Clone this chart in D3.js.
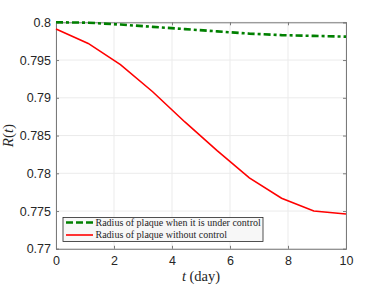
<!DOCTYPE html>
<html><head><meta charset="utf-8">
<script src="https://cdn.jsdelivr.net/npm/d3@7"></script>
<style>body{margin:0;background:#fff}svg{display:block}</style>
</head><body>
<script>
const tValues = [0, 1.111, 2.222, 3.333, 4.444, 5.556, 6.667, 7.778, 8.889, 10];
const controlled = [0.8000, 0.79995, 0.7997, 0.7994, 0.7991, 0.7988, 0.7985, 0.7983, 0.7982, 0.7981];
const uncontrolled = [0.7991, 0.7972, 0.7944, 0.7908, 0.7868, 0.7830, 0.7794, 0.7767, 0.7750, 0.7746];
const xTicks = [0, 2, 4, 6, 8, 10];
const yTicks = [0.77, 0.775, 0.78, 0.785, 0.79, 0.795, 0.8];
const yTickLabels = ["0.77", "0.775", "0.78", "0.785", "0.79", "0.795", "0.8"];
const legendLabels = ["Radius of plaque when it is under control", "Radius of plaque without control"];

const W = 382, H = 287;
const m = {l: 56, r: 36, t: 22, b: 38};
const svg = d3.select("body").append("svg").attr("width", W).attr("height", H);
const x = d3.scaleLinear().domain([0, 10]).range([m.l, W - m.r]);
const y = d3.scaleLinear().domain([0.77, 0.8]).range([H - m.b - 0.2, m.t + 0.3]);

// grid
const g = svg.append("g");
g.selectAll(".gx").data(xTicks).join("line")
  .attr("x1", d => x(d)).attr("x2", d => x(d)).attr("y1", y(0.77)).attr("y2", y(0.8))
  .attr("stroke", "#ebebeb").attr("stroke-width", 1);
g.selectAll(".gy").data(yTicks).join("line")
  .attr("y1", d => y(d)).attr("y2", d => y(d)).attr("x1", x(0)).attr("x2", x(10))
  .attr("stroke", "#ebebeb").attr("stroke-width", 1);

// axes
const axCol = "#262626";
const xa = svg.append("g").attr("transform", `translate(0,${y(0.77)})`)
  .call(d3.axisBottom(x).tickValues(xTicks).tickSize(-3).tickPadding(7).tickFormat(d3.format("d")));
const xt = svg.append("g").attr("transform", `translate(0,${y(0.8)})`)
  .call(d3.axisTop(x).tickValues(xTicks).tickSize(-3).tickFormat(""));
const ya = svg.append("g").attr("transform", `translate(${x(0)},0)`)
  .call(d3.axisLeft(y).tickValues(yTicks).tickSize(-3).tickPadding(5).tickFormat((d, i) => yTickLabels[i]));
const yr = svg.append("g").attr("transform", `translate(${x(10)},0)`)
  .call(d3.axisRight(y).tickValues(yTicks).tickSize(-3).tickFormat(""));
[xa, xt, ya, yr].forEach(a => {
  a.selectAll("path").attr("stroke", "#7a7a7a").attr("stroke-width", 1);
  a.selectAll("line").attr("stroke", "#7a7a7a");
  a.selectAll("text").attr("fill", axCol).style("font-family", "'Liberation Sans', Arial, sans-serif").style("font-size", "12.5px");
});

// lines
const line = arr => d3.line().x((d, i) => x(tValues[i])).y(d => y(d))(arr);
svg.append("path").attr("d", line(uncontrolled)).attr("fill", "none")
  .attr("stroke", "#ff0000").attr("stroke-width", 1.6);
svg.append("path").attr("d", line(controlled)).attr("fill", "none")
  .attr("stroke", "#008000").attr("stroke-width", 2.6).attr("stroke-dasharray", "7,3,3,3");

// labels
svg.append("text").attr("x", x(5)).attr("y", 281).attr("text-anchor", "middle")
  .style("font-family", "'Liberation Serif', 'DejaVu Serif', serif").style("font-size", "14.5px").attr("fill", axCol)
  .html('<tspan font-style="italic">t</tspan> (day)');
svg.append("text").attr("transform", `translate(13,${y(0.785)}) rotate(-90)`).attr("text-anchor", "middle")
  .style("font-family", "'Liberation Serif', 'DejaVu Serif', serif").style("font-size", "15px").attr("fill", axCol)
  .html('<tspan font-style="italic">R</tspan>(<tspan font-style="italic">t</tspan>)');

// legend
const lg = svg.append("g");
lg.append("rect").attr("x", 63).attr("y", 217.5).attr("width", 200).attr("height", 24)
  .attr("fill", "#f7f7f7").attr("stroke", "#262626").attr("stroke-width", 0.8);
const legColors = ["#008000", "#ff0000"];
const legDash = ["7,3", null];
const legW = [2.6, 1.6];
legendLabels.forEach((lab, i) => {
  const yy = 222.5 + i * 12.5;
  lg.append("line").attr("x1", 66).attr("x2", 93).attr("y1", yy).attr("y2", yy)
    .attr("stroke", legColors[i]).attr("stroke-width", legW[i]).attr("stroke-dasharray", legDash[i]);
  lg.append("text").attr("x", 95.5).attr("y", yy + 3.2).text(lab)
    .style("font-family", "'Liberation Serif', 'DejaVu Serif', serif").style("font-size", "10px").attr("fill", "#262626");
});
</script>
</body></html>
